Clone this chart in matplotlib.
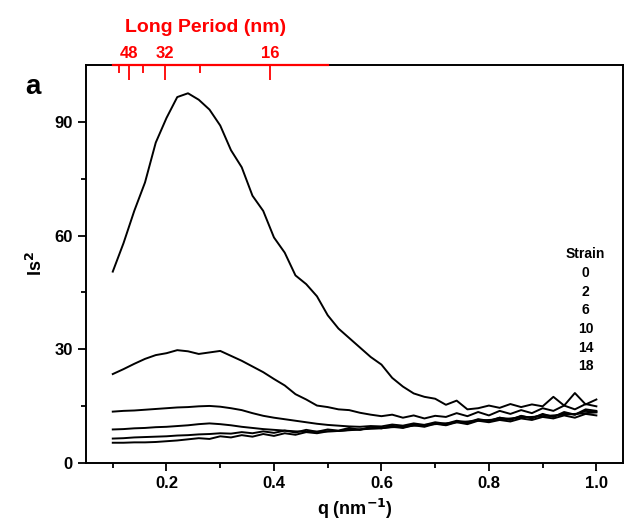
import numpy as np
import matplotlib.pyplot as plt

plt.rcParams['font.family'] = ['Liberation Sans', 'DejaVu Sans']
plt.rcParams['font.weight'] = 'bold'

# q grid (nm^-1) and scattering curves
q = [0.10, 0.12, 0.14, 0.16, 0.18, 0.20, 0.22, 0.24, 0.26, 0.28,
     0.30, 0.32, 0.34, 0.36, 0.38, 0.40, 0.42, 0.44, 0.46, 0.48,
     0.50, 0.52, 0.54, 0.56, 0.58, 0.60, 0.62, 0.64, 0.66, 0.68,
     0.70, 0.72, 0.74, 0.76, 0.78, 0.80, 0.82, 0.84, 0.86, 0.88,
     0.90, 0.92, 0.94, 0.96, 0.98, 1.00]

strain_0 = [50.5, 58, 66.5, 74, 84.5, 91, 96.5, 97.5, 95.8, 93.2,
            89, 82.5, 78, 70.5, 66.5, 59.5, 55.5, 49.5, 47.2, 44,
            39, 35.5, 33, 30.5, 28, 26, 22.5, 20.2, 18.4, 17.5,
            17, 15.4, 16.5, 14.2, 14.5, 15.2, 14.6, 15.6, 14.8, 15.5,
            15, 17.5, 15.2, 18.5, 15.5, 16.8]
strain_2 = [23.5, 24.8, 26.2, 27.5, 28.5, 29.0, 29.8, 29.5, 28.8, 29.2,
            29.6, 28.3, 27.0, 25.5, 24.0, 22.2, 20.5, 18.2, 16.8, 15.2,
            14.8, 14.2, 14.0, 13.3, 12.8, 12.4, 12.8, 12.0, 12.6, 11.8,
            12.5, 12.2, 13.2, 12.4, 13.5, 12.6, 13.8, 13.0, 14.0, 13.2,
            14.5, 13.8, 15.2, 14.2, 15.6, 15.0]
strain_6 = [13.6, 13.8, 13.9, 14.1, 14.3, 14.5, 14.7, 14.8, 15.0, 15.1,
            14.9, 14.5, 14.0, 13.2, 12.5, 12.0, 11.6, 11.2, 10.8, 10.4,
            10.1, 9.9, 9.7, 9.6, 9.8, 9.7, 10.2, 9.9, 10.5, 10.1,
            10.8, 10.4, 11.2, 10.8, 11.6, 11.2, 12.0, 11.6, 12.4, 12.0,
            12.8, 12.3, 13.2, 12.8, 13.8, 13.5]
strain_10 = [8.9, 9.0, 9.2, 9.3, 9.5, 9.6, 9.8, 10.0, 10.3, 10.5,
             10.3, 10.0, 9.6, 9.3, 9.0, 8.8, 8.6, 8.4, 8.3, 8.3,
             8.4, 8.5, 8.7, 8.9, 9.1, 9.2, 9.6, 9.3, 10.0, 9.6,
             10.4, 10.0, 10.8, 10.3, 11.2, 10.8, 11.4, 11.0, 11.8, 11.4,
             12.2, 11.8, 12.6, 12.0, 13.0, 12.6]
strain_14 = [6.5, 6.6, 6.8, 6.9, 7.0, 7.1, 7.3, 7.4, 7.6, 7.7,
             7.9, 7.8, 8.2, 7.9, 8.4, 8.0, 8.6, 8.1, 8.8, 8.3,
             8.9, 8.6, 9.3, 8.8, 9.6, 9.2, 9.9, 9.4, 10.3, 9.8,
             10.6, 10.1, 11.0, 10.5, 11.5, 11.0, 12.0, 11.4, 12.5, 11.8,
             13.0, 12.2, 13.5, 12.8, 14.2, 13.8]
strain_18 = [5.4, 5.4, 5.5, 5.5, 5.6, 5.8, 6.0, 6.3, 6.6, 6.4,
             7.1, 6.8, 7.4, 7.0, 7.7, 7.2, 7.9, 7.5, 8.2, 7.9,
             8.4, 8.5, 8.8, 8.9, 9.2, 9.3, 9.5, 9.6, 9.9, 10.1,
             10.3, 10.5, 10.8, 11.0, 11.2, 11.4, 11.6, 11.8, 12.0, 12.2,
             12.4, 12.6, 12.8, 13.0, 13.2, 13.4]

curves = [strain_0, strain_2, strain_6, strain_10, strain_14, strain_18]
strain_labels = ['0', '2', '6', '10', '14', '18']

# long period ticks on the top axis (nm)
period_major = [48, 32, 16]
period_minor = [56, 40, 24]

fig = plt.figure(figsize=(6.27, 5.27), dpi=100)
ax = fig.add_axes([0.137, 0.121, 0.857, 0.756])

for c in curves:
    ax.plot(q, c, color='black', lw=1.4)

ax.set_xlim(0.05, 1.05)
ax.set_ylim(0, 105)
ax.set_xticks([0.2, 0.4, 0.6, 0.8, 1.0])
ax.set_xticks([0.1, 0.3, 0.5, 0.7, 0.9], minor=True)
ax.set_yticks([0, 30, 60, 90])
ax.set_yticks([15, 45, 75], minor=True)
ax.tick_params(which='major', direction='out', length=6, width=1.3, labelsize=12, top=False, right=False)
ax.tick_params(which='minor', direction='out', length=3.5, width=1.3, top=False, right=False)
for lab in ax.get_xticklabels() + ax.get_yticklabels():
    lab.set_fontweight('bold')
for s in ax.spines.values():
    s.set_linewidth(1.4)

ax.set_xlabel('q (nm$^{\\mathbf{-1}}$)', fontsize=13, fontweight='bold', labelpad=4)
ax.set_ylabel('Is$^{\\mathbf{2}}$', fontsize=13, fontweight='bold', labelpad=6)

# top axis: long period
ax2 = ax.twiny()
ax2.set_xlim(ax.get_xlim())
ax2.set_xticks([2 * np.pi / p for p in period_major])
ax2.set_xticklabels([str(p) for p in period_major])
ax2.set_xticks([2 * np.pi / p for p in period_minor], minor=True)
ax2.tick_params(axis='x', which='major', direction='in', length=11, width=1.3,
                colors='red', labelsize=12, pad=3)
ax2.tick_params(axis='x', which='minor', direction='in', length=6, width=1.3, colors='red')
for lab in ax2.get_xticklabels():
    lab.set_fontweight('bold')
ax2.spines['top'].set_bounds(0.1, 0.5)
ax2.spines['top'].set_color('red')
ax2.spines['top'].set_linewidth(1.6)
for side in ['left', 'right', 'bottom']:
    ax2.spines[side].set_visible(False)
ax2.set_xlabel('Long Period (nm)', color='red', fontsize=14, fontweight='bold')
ax2.xaxis.set_label_coords(0.223, 1.093)
ax2.xaxis.label.set_va('center')

# strain list
ax.text(0.93, 0.525, 'Strain', transform=ax.transAxes, ha='center', va='center',
        fontsize=10, fontweight='bold')
for i, s in enumerate(strain_labels):
    ax.text(0.93, 0.478 - i * 0.047, s, transform=ax.transAxes, ha='center', va='center',
            fontsize=10, fontweight='bold')

fig.text(0.053, 0.835, 'a', fontsize=20, fontweight='bold', ha='center', va='center')

fig.savefig('out.png', dpi=100, facecolor='white')
